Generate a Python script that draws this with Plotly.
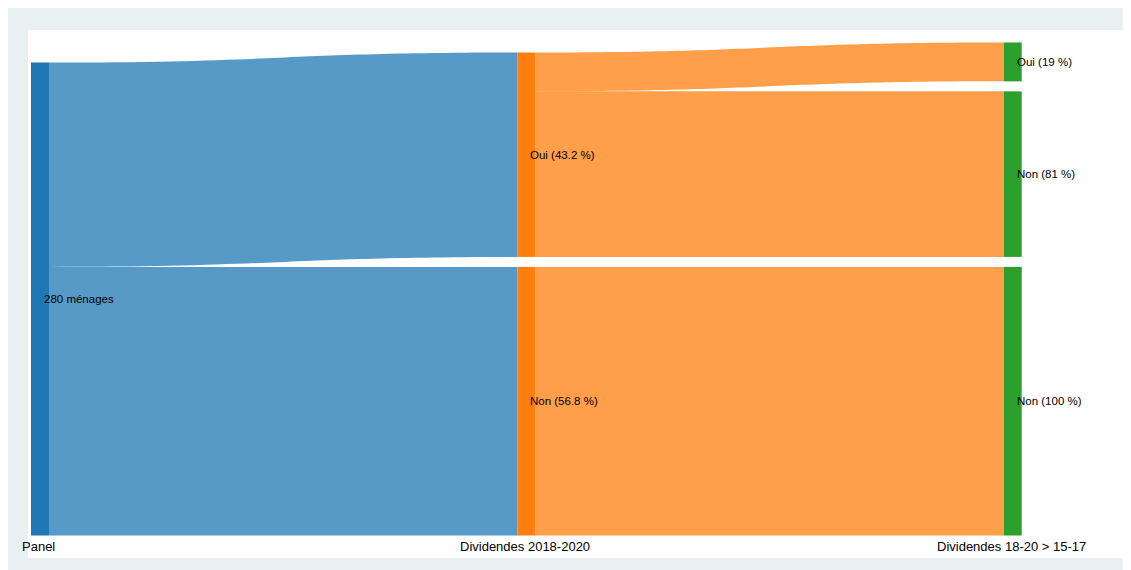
import plotly.graph_objects as go

# ---- data ----
node_labels = ["280 ménages", "Oui (43.2 %)", "Non (56.8 %)", "Oui (19 %)", "Non (81 %)", "Non (100 %)"]
node_column = [0, 1, 1, 2, 2, 2]
link_source = [0, 0, 1, 1, 2]
link_target = [1, 2, 3, 4, 5]
link_value = [121, 159, 23, 98, 159]
column_labels = ["Panel", "Dividendes 2018-2020", "Dividendes 18-20 > 15-17"]

# ---- style ----
node_colors = ["#1f77b4", "#ff7f0e", "#ff7f0e", "#2ca02c", "#2ca02c", "#2ca02c"]
link_colors = ["rgba(31,119,180,0.75)", "rgba(31,119,180,0.75)",
               "rgba(255,127,14,0.75)", "rgba(255,127,14,0.75)", "rgba(255,127,14,0.75)"]

W, H = 1135, 570
M = dict(l=20, r=20, t=22, b=20)
PW, PH = W - M["l"] - M["r"], H - M["t"] - M["b"]
THICK, PAD = 18, 10
dom_x = [3 / PW, 0.9075]
dom_y = [22.5 / PH, 1 - 12.5 / PH]
Wd = PW * (dom_x[1] - dom_x[0])
Hd = PH * (dom_y[1] - dom_y[0])

# node values from links
n = len(node_labels)
vin = [0] * n
vout = [0] * n
for s, t, v in zip(link_source, link_target, link_value):
    vout[s] += v
    vin[t] += v
node_val = [max(a, b) for a, b in zip(vin, vout)]

ncols = max(node_column) + 1
cols = [[i for i in range(n) if node_column[i] == c] for c in range(ncols)]
total = sum(node_val[i] for i in cols[0])
max_n = max(len(c) for c in cols)
ky = (Hd - (max_n - 1) * PAD) / total

xc_px = [THICK / 2 + c * (Wd - THICK) / (ncols - 1) for c in range(ncols)]
node_xc = [0.0] * n
node_yc = [0.0] * n
for c, members in enumerate(cols):
    bottom = Hd
    for i in reversed(members):
        h = node_val[i] * ky
        node_yc[i] = bottom - h / 2
        bottom -= h + PAD
    for i in members:
        node_xc[i] = xc_px[c]

fig = go.Figure(go.Sankey(
    domain=dict(x=dom_x, y=dom_y),
    arrangement="snap",
    node=dict(label=[""] * n, customdata=node_labels,
              hovertemplate="%{customdata}<extra></extra>",
              color=node_colors, pad=PAD, thickness=THICK,
              line=dict(width=0),
              x=[x / Wd for x in node_xc], y=[y / Hd for y in node_yc]),
    link=dict(source=link_source, target=link_target, value=link_value, color=link_colors),
))

fig.add_shape(type="rect", xref="paper", yref="paper", x0=0, x1=1, y0=0, y1=1,
              fillcolor="white", line=dict(width=0), layer="below")

# node labels
for i in range(n):
    px = dom_x[0] * PW + node_xc[i] + 2
    py = PH * (1 - dom_y[1]) + node_yc[i]
    fig.add_annotation(x=px / PW, y=1 - py / PH, xref="paper", yref="paper",
                       text=node_labels[i], showarrow=False, xanchor="left", yanchor="middle",
                       font=dict(size=11.5, color="black"))

# column labels
for c in range(ncols):
    px = dom_x[0] * PW + xc_px[c] - 1.5
    fig.add_annotation(x=px / PW, y=dom_y[0] - 1.0 / PH, xref="paper", yref="paper",
                       text=column_labels[c], showarrow=False, xanchor="center", yanchor="top",
                       font=dict(size=13, color="black"))

fig.update_layout(width=W, height=H, margin=M,
                  paper_bgcolor="#e9f0f2",
                  font=dict(family="Arial", size=12, color="black"))
fig.write_html("out.html")
